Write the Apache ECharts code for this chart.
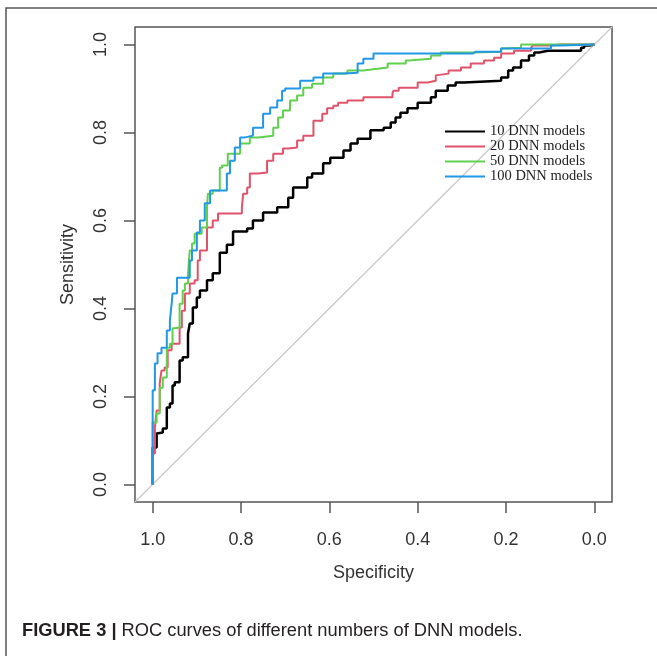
<!DOCTYPE html>
<html>
<head>
<meta charset="utf-8">
<script src="https://cdn.jsdelivr.net/npm/echarts@6/dist/echarts.min.js"></script>
<style>
html, body { margin: 0; padding: 0; background: #fff; }
#roc { width: 657px; height: 656px; }
</style>
</head>
<body>
<div id="roc"></div>
<script>
// legend labels and tick values
var legendNames = ['10 DNN models', '20 DNN models', '50 DNN models', '100 DNN models'];
var ticks = [0, 0.2, 0.4, 0.6, 0.8, 1.0];
var chance = [[1.04, -0.04], [-0.04, 1.04]];

// [specificity, sensitivity]
var roc10 = [[1,0],[0.991,0.084],[0.991,0.116],[0.977,0.118],[0.968,0.127],[0.961,0.175],[0.955,0.184],
  [0.950,0.225],[0.939,0.232],[0.932,0.282],[0.920,0.289],[0.916,0.343],[0.909,0.366],[0.900,0.402],
  [0.893,0.425],[0.877,0.441],[0.864,0.464],[0.848,0.480],[0.832,0.527],[0.818,0.545],[0.786,0.575],
  [0.773,0.582],[0.750,0.600],[0.718,0.618],[0.693,0.630],[0.682,0.652],[0.650,0.675],[0.639,0.698],
  [0.614,0.707],[0.598,0.730],[0.568,0.743],[0.552,0.759],[0.536,0.775],[0.507,0.786],[0.477,0.805],
  [0.461,0.811],[0.450,0.823],[0.439,0.834],[0.423,0.845],[0.400,0.855],[0.370,0.868],[0.359,0.880],
  [0.332,0.895],[0.314,0.907],[0.295,0.914],[0.211,0.918],[0.195,0.925],[0.184,0.941],[0.166,0.948],
  [0.148,0.964],[0.136,0.975],[0.125,0.982],[0.105,0.986],[0.030,0.986],[0.023,0.993],[0.011,0.998],[0,1]];

var roc20 = [[1,0],[0.995,0.070],[0.991,0.130],[0.984,0.168],[0.980,0.230],[0.973,0.259],[0.966,0.266],
  [0.957,0.305],[0.950,0.320],[0.939,0.320],[0.934,0.357],[0.927,0.395],[0.916,0.434],[0.905,0.457],
  [0.898,0.464],[0.893,0.509],[0.877,0.532],[0.864,0.584],[0.852,0.600],[0.841,0.616],[0.798,0.616],
  [0.795,0.630],[0.786,0.661],[0.780,0.675],[0.761,0.707],[0.741,0.709],[0.727,0.736],[0.705,0.752],
  [0.693,0.764],[0.673,0.766],[0.659,0.782],[0.636,0.793],[0.616,0.827],[0.605,0.843],[0.591,0.855],
  [0.580,0.861],[0.559,0.868],[0.523,0.873],[0.511,0.880],[0.457,0.880],[0.455,0.889],[0.443,0.895],
  [0.400,0.902],[0.377,0.914],[0.359,0.918],[0.355,0.930],[0.330,0.934],[0.302,0.941],[0.280,0.948],
  [0.250,0.957],[0.227,0.964],[0.211,0.970],[0.195,0.980],[0.182,0.980],[0.143,0.986],[0.139,0.993],
  [0.098,0.998],[0.075,1],[0,1]];

var roc50 = [[1,0],[1,0.070],[0.991,0.141],[0.984,0.161],[0.977,0.220],[0.968,0.243],[0.961,0.311],
  [0.955,0.320],[0.950,0.355],[0.939,0.357],[0.932,0.411],[0.927,0.441],[0.920,0.457],[0.916,0.480],
  [0.911,0.532],[0.905,0.548],[0.889,0.570],[0.877,0.584],[0.875,0.630],[0.864,0.661],[0.848,0.668],
  [0.843,0.720],[0.830,0.725],[0.820,0.752],[0.802,0.752],[0.780,0.775],[0.761,0.789],[0.727,0.793],
  [0.716,0.811],[0.705,0.834],[0.689,0.850],[0.673,0.873],[0.659,0.884],[0.639,0.902],[0.614,0.911],
  [0.591,0.925],[0.559,0.934],[0.523,0.941],[0.491,0.945],[0.468,0.948],[0.427,0.957],[0.420,0.964],
  [0.370,0.968],[0.348,0.975],[0.275,0.982],[0.211,0.984],[0.207,0.991],[0.166,0.993],[0.159,1],[0,1]];

var roc100 = [[1,0],[1,0.070],[0.995,0.214],[0.989,0.275],[0.980,0.298],[0.968,0.311],[0.961,0.350],
  [0.957,0.373],[0.955,0.411],[0.945,0.434],[0.939,0.470],[0.916,0.470],[0.911,0.509],[0.900,0.532],
  [0.893,0.573],[0.882,0.600],[0.870,0.639],[0.859,0.668],[0.832,0.668],[0.825,0.707],[0.814,0.736],
  [0.802,0.766],[0.791,0.789],[0.773,0.793],[0.764,0.811],[0.750,0.811],[0.734,0.843],[0.718,0.857],
  [0.707,0.873],[0.700,0.895],[0.666,0.900],[0.636,0.918],[0.614,0.925],[0.568,0.934],[0.536,0.936],
  [0.523,0.957],[0.500,0.968],[0.468,0.980],[0.275,0.980],[0.268,0.984],[0.211,0.984],[0.193,0.991],
  [0.098,0.991],[0.075,0.998],[0,1]];

var chart = echarts.init(document.getElementById('roc'));

function curve(name, data, color, width) {
  return {
    name: name,
    type: 'line',
    data: data,
    step: 'start',
    symbol: 'none',
    showSymbol: false,
    lineStyle: { color: color, width: width },
    itemStyle: { color: color },
    z: 3
  };
}

var tickLabel = function (v) { return v.toFixed(1); };
var axisFont = 'Liberation Sans, Arial, sans-serif';

var option = {
  animation: false,
  grid: {
    show: true,
    left: 135, right: 45, top: 27, bottom: 154,
    borderColor: '#555',
    borderWidth: 1.5
  },
  legend: {
    data: legendNames,
    orient: 'vertical',
    left: 445,
    top: 124,
    padding: 0,
    itemGap: 0,
    itemWidth: 40,
    itemHeight: 2,
    icon: 'rect',
    textStyle: { fontFamily: 'Liberation Serif, Times New Roman, serif', fontSize: 14.5, color: '#222', lineHeight: 12.5 }
  },
  xAxis: {
    type: 'value',
    inverse: true,
    min: -0.04,
    max: 1.04,
    name: 'Specificity',
    nameLocation: 'middle',
    nameGap: 62,
    nameTextStyle: { fontFamily: axisFont, fontSize: 18, color: '#333' },
    axisLine: { show: false, onZero: false },
    splitLine: { show: false },
    axisTick: { show: true, customValues: ticks, length: 11, lineStyle: { color: '#555', width: 1.5 } },
    axisLabel: { customValues: ticks, formatter: tickLabel, margin: 29, fontFamily: axisFont, fontSize: 18, color: '#333' }
  },
  yAxis: {
    type: 'value',
    min: -0.04,
    max: 1.04,
    name: 'Sensitivity',
    nameLocation: 'middle',
    nameGap: 58,
    nameTextStyle: { fontFamily: axisFont, fontSize: 18, color: '#333' },
    axisLine: { show: false, onZero: false },
    splitLine: { show: false },
    axisTick: { show: true, customValues: ticks, length: 11, lineStyle: { color: '#555', width: 1.5 } },
    axisLabel: { customValues: ticks, formatter: tickLabel, rotate: 90, margin: 25, fontFamily: axisFont, fontSize: 18, color: '#333' }
  },
  graphic: [
    {
      type: 'polyline',
      shape: { points: [[6, 656], [6, 8], [657, 8]] },
      style: { stroke: '#555', lineWidth: 1.5, fill: null }
    },
    {
      type: 'text',
      left: 22,
      top: 622,
      style: {
        text: '{b|FIGURE 3 |} ROC curves of different numbers of DNN models.',
        fontFamily: axisFont,
        fontSize: 18.3,
        fill: '#231f20',
        rich: { b: { fontFamily: axisFont, fontSize: 18.3, fontWeight: 'bold', fill: '#231f20' } }
      }
    }
  ],
  series: [
    {
      type: 'line',
      data: chance,
      symbol: 'none',
      silent: true,
      lineStyle: { color: '#c8c8c8', width: 1.2 },
      z: 2
    },
    curve(legendNames[0], roc10, '#000000', 2.5),
    curve(legendNames[1], roc20, '#DF536B', 2),
    curve(legendNames[2], roc50, '#61D04F', 2),
    curve(legendNames[3], roc100, '#2297E6', 2)
  ]
};
chart.setOption(option);
</script>
</body>
</html>
